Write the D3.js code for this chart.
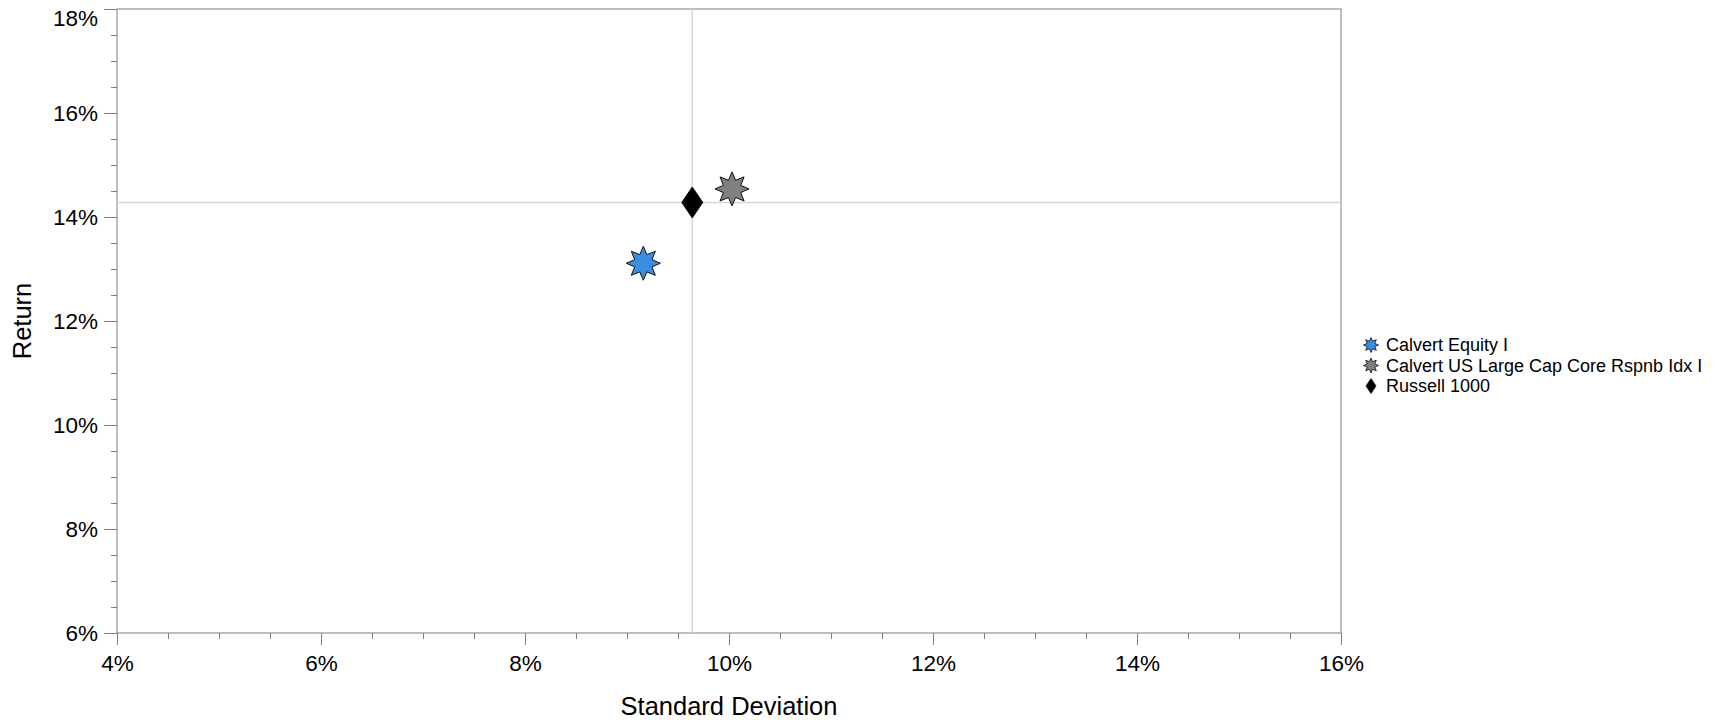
<!DOCTYPE html>
<html>
<head>
<meta charset="utf-8">
<script src="https://cdn.jsdelivr.net/npm/d3@7"></script>
<style>
  body { margin: 0; background: #fff; }
  text { font-family: "Liberation Sans", Arial, sans-serif; fill: #000; }
</style>
</head>
<body>
<script>
// risk / return scatter

var names = ["Calvert Equity I", "Calvert US Large Cap Core Rspnb Idx I", "Russell 1000"];
var stdDev = [9.16, 10.03, 9.64];
var returns = [13.11, 14.54, 14.28];
var shapes = ["star", "star", "diamond"];
var colors = ["#3a8de0", "#808080", "#000000"];

var xTicks = [4, 6, 8, 10, 12, 14, 16];
var yTicks = [6, 8, 10, 12, 14, 16, 18];
var benchmark = 2; // crosshair goes through Russell 1000

var w = 1725, h = 720;
var plotLeft = 117, plotRight = 1341, plotTop = 9, plotBottom = 633;

var svg = d3.select("body").append("svg")
    .attr("width", w)
    .attr("height", h);

var x = d3.scaleLinear().domain([4, 16]).range([plotLeft, plotRight]);
var y = d3.scaleLinear().domain([6, 18]).range([plotBottom, plotTop]);

var axisColor = "#7f7f7f";

// minor ticks every 0.5%
var xMinor = d3.range(4, 16.01, 0.5);
var yMinor = d3.range(6, 18.01, 0.5);

svg.append("g")
    .attr("transform", "translate(0," + plotBottom + ")")
    .call(d3.axisBottom(x).tickValues(xMinor).tickFormat("").tickSize(6).tickSizeOuter(0))
    .call(function(g){ g.select(".domain").remove(); })
    .selectAll("line").attr("stroke", axisColor);

svg.append("g")
    .attr("transform", "translate(" + plotLeft + ",0)")
    .call(d3.axisLeft(y).tickValues(yMinor).tickFormat("").tickSize(6).tickSizeOuter(0))
    .call(function(g){ g.select(".domain").remove(); })
    .selectAll("line").attr("stroke", axisColor);

// major ticks + labels
var xAxis = svg.append("g")
    .attr("transform", "translate(0," + plotBottom + ")")
    .call(d3.axisBottom(x).tickValues(xTicks).tickFormat(function(d){ return d + "%"; })
        .tickSize(12).tickSizeOuter(0).tickPadding(10));
xAxis.select(".domain").remove();
xAxis.selectAll("line").attr("stroke", axisColor);
xAxis.selectAll("text").style("font-size", "22.5px").attr("fill", "#000");

var yAxis = svg.append("g")
    .attr("transform", "translate(" + plotLeft + ",0)")
    .call(d3.axisLeft(y).tickValues(yTicks).tickFormat(function(d){ return d + "%"; })
        .tickSize(13).tickSizeOuter(0).tickPadding(6));
yAxis.select(".domain").remove();
yAxis.selectAll("line").attr("stroke", axisColor);
// top label is pushed down so it stays inside the picture
yAxis.selectAll("text").style("font-size", "22.5px").attr("fill", "#000")
    .attr("y", function(d){ return d == 18 ? 9 : 0; });

// frame
svg.append("rect")
    .attr("x", plotLeft).attr("y", plotTop)
    .attr("width", plotRight - plotLeft).attr("height", plotBottom - plotTop)
    .attr("fill", "none")
    .attr("stroke", axisColor)
    .attr("stroke-width", 1);

// crosshair through benchmark
svg.append("line")
    .attr("x1", x(stdDev[benchmark])).attr("x2", x(stdDev[benchmark]))
    .attr("y1", plotTop).attr("y2", plotBottom)
    .attr("stroke", "#d6d6d6").attr("stroke-width", 1.5);
svg.append("line")
    .attr("x1", plotLeft).attr("x2", plotRight)
    .attr("y1", y(returns[benchmark])).attr("y2", y(returns[benchmark]))
    .attr("stroke", "#d6d6d6").attr("stroke-width", 1.5);

// axis titles
svg.append("text")
    .attr("x", (plotLeft + plotRight) / 2)
    .attr("y", 715)
    .attr("text-anchor", "middle")
    .style("font-size", "25.5px")
    .text("Standard Deviation");

svg.append("text")
    .attr("transform", "translate(31," + ((plotTop + plotBottom) / 2) + ") rotate(-90)")
    .attr("text-anchor", "middle")
    .style("font-size", "25.5px")
    .text("Return");

// shapes
function starPath(r) {
    var pts = [];
    for (var i = 0; i < 16; i++) {
        var a = Math.PI * i / 8 - Math.PI / 2;
        var rr = i % 2 == 0 ? r : r * 0.55;
        pts.push([rr * Math.cos(a), rr * Math.sin(a)]);
    }
    return "M" + pts.map(function(p){ return p[0].toFixed(2) + "," + p[1].toFixed(2); }).join("L") + "Z";
}

function diamondPath(wd, ht) {
    return "M0," + (-ht / 2) + "L" + (wd / 2) + ",0L0," + (ht / 2) + "L" + (-wd / 2) + ",0Z";
}

function shape(kind, big) {
    if (kind == "star") return starPath(big ? 17 : 7.5);
    return big ? diamondPath(21, 31) : diamondPath(10, 15);
}

// points, Russell drawn first so stars sit on top
var order = [2, 0, 1];
svg.append("g").selectAll("path")
    .data(order)
    .join("path")
    .attr("transform", function(i){ return "translate(" + x(stdDev[i]) + "," + y(returns[i]) + ")"; })
    .attr("d", function(i){ return shape(shapes[i], true); })
    .attr("fill", function(i){ return colors[i]; })
    .attr("stroke", "#111")
    .attr("stroke-width", 1);

// legend
var legend = svg.append("g").attr("transform", "translate(1371,345)");
var rows = legend.selectAll("g")
    .data(names)
    .join("g")
    .attr("transform", function(d, i){ return "translate(0," + (i * 20.5) + ")"; });

rows.append("path")
    .attr("d", function(d, i){ return shape(shapes[i], false); })
    .attr("fill", function(d, i){ return colors[i]; })
    .attr("stroke", "#111")
    .attr("stroke-width", 0.8);

rows.append("text")
    .attr("x", 15)
    .attr("dy", "0.35em")
    .style("font-size", "18px")
    .text(function(d){ return d; });
</script>
</body>
</html>
